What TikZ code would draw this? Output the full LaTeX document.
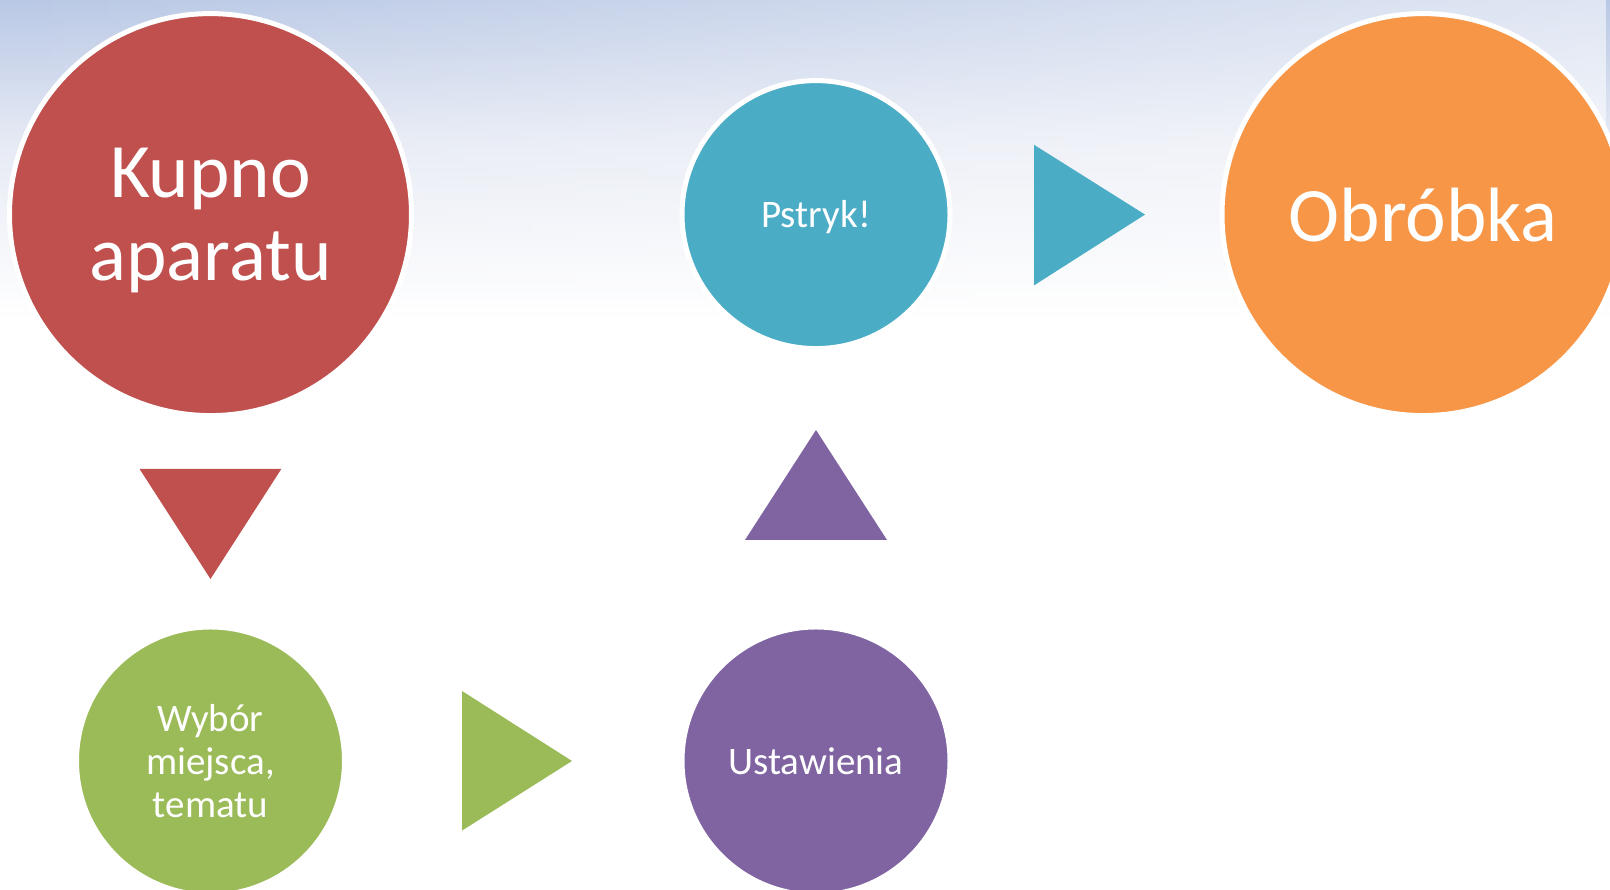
\documentclass[tikz,border=0pt]{standalone}
\usepackage{fontspec}
\setmainfont{Carlito}
\usetikzlibrary{fadings}
\definecolor{cred}{HTML}{C0504D}
\definecolor{corange}{HTML}{F79646}
\definecolor{cblue}{HTML}{4BACC6}
\definecolor{cgreen}{HTML}{9BBB59}
\definecolor{cpurple}{HTML}{8064A2}
\definecolor{bgtop}{HTML}{B9C8E5}
\definecolor{bgmid}{HTML}{E6EAF4}
\pgfdeclareverticalshading{bgshade}{100bp}{color(0bp)=(white); color(57bp)=(white); color(67bp)=(bgmid); color(75bp)=(bgtop); color(100bp)=(bgtop)}
\begin{document}
\begin{tikzpicture}[x=1pt,y=1pt,
  bubble/.style={circle, draw=white, line width=5pt, text=white, align=center, inner sep=0pt},
  big/.style={bubble, minimum size=402pt, font=\fontsize{77}{83}\selectfont},
  small/.style={bubble, minimum size=268pt, font=\fontsize{39}{43}\selectfont}]
\useasboundingbox (0,0) rectangle (1610,890);
\clip (0,0) rectangle (1610,890);
\shade[shading=bgshade] (0,0) rectangle (1610,890);
\fill[white, fill opacity=0.55, path fading=west] (0,890) rectangle (1610,560);

\node[big, fill=cred] (kupno) at (210.5,675.4) {};
\node[text=white, align=center, font=\fontsize{77}{83}\selectfont, yshift=-6pt] (kupnotxt) at (kupno.center) {Kupno\\aparatu};
\node[big, fill=corange] (obrobka) at (1423,675.4) {Obróbka};
\node[small, fill=cblue] (pstryk) at (816,675.4) {};
\node[text=white, font=\fontsize{39}{43}\selectfont, yshift=-3pt] (pstryktxt) at (pstryk.center) {Pstryk!};
\node[small, fill=cgreen] (wybor) at (210.5,129) {Wybór\\miejsca,\\tematu};
\node[small, fill=cpurple] (ustaw) at (816,129) {Ustawienia};

\fill[cred] (139.6,421) -- (281.3,421) -- (210.5,311) -- cycle;
\fill[cgreen] (462,199) -- (462,59.4) -- (572,129) -- cycle;
\fill[cpurple] (745,350) -- (887,350) -- (816,460) -- cycle;
\fill[cblue] (1034,745.2) -- (1034,604.6) -- (1145,675.4) -- cycle;
\end{tikzpicture}
\end{document}
